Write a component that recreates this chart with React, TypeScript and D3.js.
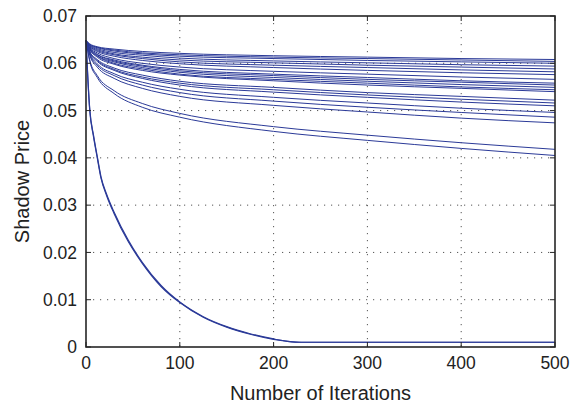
import React from "react";
import * as d3 from "d3";

const W = 571;
const H = 403;
const M = { left: 86, right: 16, top: 16, bottom: 56 };

const xTicks = [0, 100, 200, 300, 400, 500];
const xTickLabels = ["0", "100", "200", "300", "400", "500"];
const yTicks = [0, 0.01, 0.02, 0.03, 0.04, 0.05, 0.06, 0.07];
const yTickLabels = ["0", "0.01", "0.02", "0.03", "0.04", "0.05", "0.06", "0.07"];

const xLabel = "Number of Iterations";
const yLabel = "Shadow Price";

// iterations at which the slowly-decaying curves were sampled
const slowX = [0, 4, 12, 30, 60, 100, 200, 300, 400, 500];
const slowSeries: number[][] = [
  [0.0648, 0.0641, 0.0635, 0.063, 0.0625, 0.0621, 0.0616, 0.0613, 0.061, 0.0608],
  [0.0648, 0.064, 0.0634, 0.0628, 0.0622, 0.0618, 0.0613, 0.061, 0.0607, 0.0604],
  [0.0648, 0.0639, 0.0633, 0.0626, 0.062, 0.0615, 0.061, 0.0606, 0.0603, 0.06],
  [0.0648, 0.0638, 0.0631, 0.0623, 0.0617, 0.0611, 0.0605, 0.0601, 0.0597, 0.0594],
  [0.0648, 0.0637, 0.0629, 0.062, 0.0613, 0.0607, 0.0601, 0.0596, 0.0592, 0.0588],
  [0.0648, 0.0636, 0.0627, 0.0618, 0.061, 0.0603, 0.0596, 0.0591, 0.0586, 0.0582],
  [0.0648, 0.0635, 0.0625, 0.0615, 0.0606, 0.0599, 0.0591, 0.0585, 0.058, 0.0576],
  [0.0648, 0.0633, 0.0622, 0.061, 0.06, 0.0592, 0.0583, 0.0577, 0.0571, 0.0566],
  [0.0648, 0.0632, 0.0619, 0.0607, 0.0596, 0.0587, 0.0577, 0.057, 0.0563, 0.0558],
  [0.0648, 0.0631, 0.0618, 0.0605, 0.0594, 0.0584, 0.0574, 0.0566, 0.056, 0.0554],
  [0.0648, 0.063, 0.0616, 0.0603, 0.0591, 0.0581, 0.057, 0.0562, 0.0555, 0.0549],
  [0.0648, 0.0629, 0.0615, 0.06, 0.0588, 0.0577, 0.0566, 0.0558, 0.055, 0.0544],
  [0.0648, 0.0629, 0.0613, 0.0598, 0.0585, 0.0575, 0.0563, 0.0554, 0.0547, 0.054],
  [0.0648, 0.0625, 0.0608, 0.059, 0.0575, 0.0562, 0.0549, 0.0538, 0.053, 0.0522],
  [0.0648, 0.0624, 0.0606, 0.0587, 0.0571, 0.0558, 0.0544, 0.0533, 0.0524, 0.0516],
  [0.0648, 0.0623, 0.0604, 0.0585, 0.0568, 0.0554, 0.0539, 0.0528, 0.0518, 0.051],
  [0.0648, 0.0621, 0.0599, 0.0578, 0.056, 0.0545, 0.0528, 0.0516, 0.0505, 0.0496],
  [0.0648, 0.0619, 0.0596, 0.0574, 0.0554, 0.0538, 0.052, 0.0507, 0.0496, 0.0486],
  [0.0648, 0.0617, 0.0592, 0.0568, 0.0547, 0.053, 0.0511, 0.0497, 0.0484, 0.0474],
  [0.0648, 0.0607, 0.0574, 0.0542, 0.0515, 0.0494, 0.0466, 0.0448, 0.0432, 0.0418],
  [0.0648, 0.0604, 0.057, 0.0536, 0.0507, 0.0486, 0.0456, 0.0437, 0.042, 0.0405],
];

// iterations at which the fast-decaying curves were sampled
const fastX = [0, 2, 4, 8, 12, 16, 22, 30, 45, 60, 80, 100, 125, 150, 175, 200, 215, 230, 300, 400, 500];
const fastA = [0.0648, 0.0565, 0.05, 0.0445, 0.04, 0.0357, 0.032, 0.0282, 0.0223, 0.0177, 0.0128, 0.0094, 0.0063, 0.0042, 0.0027, 0.0016, 0.0012, 0.001, 0.001, 0.001, 0.001];
const fastB = [0.0648, 0.0568, 0.0503, 0.0448, 0.0403, 0.036, 0.0323, 0.0285, 0.0226, 0.0179, 0.013, 0.0095, 0.0064, 0.0043, 0.0028, 0.0017, 0.0012, 0.001, 0.001, 0.001, 0.001];

const LINE = "#2b3a98";
const AXIS = "#262626";
const FONT = "'Liberation Sans', Arial, Helvetica, sans-serif";

export default function App() {
  const iw = W - M.left - M.right;
  const ih = H - M.top - M.bottom;
  const x = d3.scaleLinear().domain([0, 500]).range([0, iw]);
  const y = d3.scaleLinear().domain([0, 0.07]).range([ih, 0]);

  const lineGen = (xs: number[]) =>
    d3
      .line<number>()
      .x((_, i) => x(xs[i]))
      .y((d) => y(d))
      .curve(d3.curveMonotoneX);

  const slowLine = lineGen(slowX);
  const fastLine = lineGen(fastX);
  const tick = 5;

  return (
    <svg
      width={W}
      height={H}
      style={{ position: "absolute", left: 0, top: 0, background: "#fff" }}
      fontFamily={FONT}
    >
      <rect x={0} y={0} width={W} height={H} fill="#fff" />
      <g transform={`translate(${M.left},${M.top})`}>
        {xTicks.slice(1, -1).map((t) => (
          <line
            key={"gx" + t}
            x1={x(t)}
            x2={x(t)}
            y1={0}
            y2={ih}
            stroke="#555"
            strokeWidth={1}
            strokeDasharray="1.2,5.8"
          />
        ))}
        {yTicks.slice(1, -1).map((t) => (
          <line
            key={"gy" + t}
            x1={0}
            x2={iw}
            y1={y(t)}
            y2={y(t)}
            stroke="#555"
            strokeWidth={1}
            strokeDasharray="1.2,5.8"
          />
        ))}
        {slowSeries.map((s, i) => (
          <path key={"s" + i} d={slowLine(s) || ""} fill="none" stroke={LINE} strokeWidth={1} />
        ))}
        <path d={fastLine(fastA) || ""} fill="none" stroke={LINE} strokeWidth={1.2} />
        <path d={fastLine(fastB) || ""} fill="none" stroke={LINE} strokeWidth={1.2} />
        {xTicks.map((t) => (
          <g key={"tx" + t}>
            <line x1={x(t)} x2={x(t)} y1={ih} y2={ih - tick} stroke={AXIS} strokeWidth={1} />
            <line x1={x(t)} x2={x(t)} y1={0} y2={tick} stroke={AXIS} strokeWidth={1} />
          </g>
        ))}
        {yTicks.map((t) => (
          <g key={"ty" + t}>
            <line x1={0} x2={tick} y1={y(t)} y2={y(t)} stroke={AXIS} strokeWidth={1} />
            <line x1={iw} x2={iw - tick} y1={y(t)} y2={y(t)} stroke={AXIS} strokeWidth={1} />
          </g>
        ))}
        <rect x={0} y={0} width={iw} height={ih} fill="none" stroke={AXIS} strokeWidth={1.6} />
        {xTicks.map((t, i) => (
          <text
            key={"lx" + t}
            x={x(t)}
            y={ih + 22}
            textAnchor="middle"
            fontSize={17.5}
            fill="#222"
          >
            {xTickLabels[i]}
          </text>
        ))}
        {yTicks.map((t, i) => (
          <text
            key={"ly" + t}
            x={-9}
            y={y(t)}
            dy="0.35em"
            textAnchor="end"
            fontSize={17.5}
            fill="#222"
          >
            {yTickLabels[i]}
          </text>
        ))}
        <text x={iw / 2} y={ih + 53} textAnchor="middle" fontSize={20} fill="#222">
          {xLabel}
        </text>
        <text
          transform={`translate(${22 - M.left},${ih / 2}) rotate(-90)`}
          textAnchor="middle"
          dy="0.35em"
          fontSize={20}
          fill="#222"
        >
          {yLabel}
        </text>
      </g>
    </svg>
  );
}
